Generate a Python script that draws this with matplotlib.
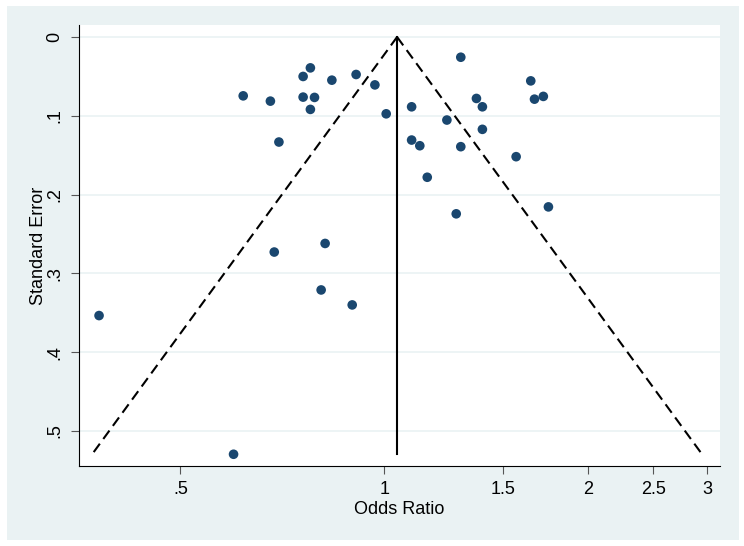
import numpy as np
import matplotlib
matplotlib.use('Agg')
import matplotlib.pyplot as plt
from matplotlib.patches import Rectangle

plt.rcParams['font.family'] = ['Liberation Sans', 'DejaVu Sans']

# study estimates
odds_ratio = [0.619, 0.679, 0.759, 0.778, 0.759, 0.789, 0.778, 0.699, 0.837, 0.909,
              0.969, 1.007, 1.098, 1.298, 1.647, 1.369, 1.397, 1.668, 1.719, 1.238,
              1.397, 1.098, 1.129, 1.298, 1.567, 1.158, 1.278, 1.749, 0.379, 0.599,
              0.688, 0.818, 0.807, 0.897]
std_err = [0.0747, 0.0814, 0.0501, 0.0392, 0.0763, 0.0767, 0.0919, 0.1333, 0.0548, 0.0476,
           0.0608, 0.0975, 0.0886, 0.0257, 0.0557, 0.0780, 0.0886, 0.0789, 0.0754, 0.1054,
           0.1172, 0.1308, 0.1380, 0.1392, 0.1519, 0.1780, 0.2244, 0.2156, 0.3535, 0.5295,
           0.2729, 0.2620, 0.3210, 0.3400]
pooled_or = 1.045

xticks = [0.5, 1, 1.5, 2, 2.5, 3]
xticklabels = ['.5', '1', '1.5', '2', '2.5', '3']
yticks = [0, 0.1, 0.2, 0.3, 0.4, 0.5]
yticklabels = ['0', '.1', '.2', '.3', '.4', '.5']

W, H = 744, 546
fig = plt.figure(figsize=(W / 100, H / 100), dpi=100, facecolor='white')
fig.patches.append(Rectangle((7 / W, 6 / H), 732 / W, 534 / H, transform=fig.transFigure,
                             facecolor='#EAF2F3', edgecolor='none', zorder=-10))
ax = fig.add_axes([79 / W, 80 / H, 641 / W, 441 / H])
ax.set_facecolor('white')

# pseudo 95% confidence limits
se_max = max(std_err)
se_line = np.array([0, se_max])
lo = np.exp(np.log(pooled_or) - 1.96 * se_line)
hi = np.exp(np.log(pooled_or) + 1.96 * se_line)
ax.plot(lo, se_line, color='black', lw=1.5, ls=(0, (5, 2.8)))
ax.plot(hi, se_line, color='black', lw=1.5, ls=(0, (5, 2.8)))
ax.plot([pooled_or, pooled_or], [0, se_max], color='black', lw=1.5)

ax.scatter(odds_ratio, std_err, s=48, color='#1A476F', edgecolors='none', zorder=3)

ax.set_xscale('log')
ax.set_xlim(0.354, 3.136)
ax.set_ylim(0.5444, -0.0152)
ax.set_xticks(xticks)
ax.set_xticklabels(xticklabels)
ax.minorticks_off()
ax.set_yticks(yticks)
ax.set_yticklabels(yticklabels, rotation=90, va='center')
ax.yaxis.grid(True, color='#EAF2F3', lw=1.2)
ax.set_axisbelow(True)

for s in ['top', 'right']:
    ax.spines[s].set_visible(False)
for s in ['left', 'bottom']:
    ax.spines[s].set_color('black')
    ax.spines[s].set_linewidth(0.8)
ax.tick_params(axis='both', labelsize=13, length=6, width=0.8, color='#555555', pad=5)

ax.set_xlabel('Odds Ratio', fontsize=13, labelpad=2)
ax.set_ylabel('Standard Error', fontsize=13, labelpad=0)

fig.savefig('out.png', dpi=100, facecolor='white')
